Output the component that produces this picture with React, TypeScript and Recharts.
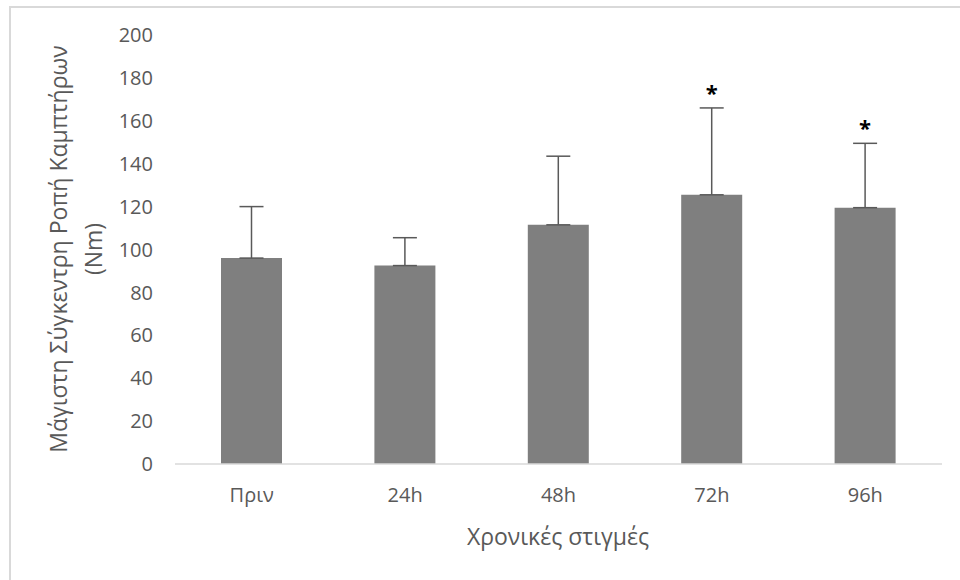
import { BarChart, Bar, XAxis, YAxis, ErrorBar, LabelList } from "recharts";

// χρονικές στιγμές
const timepoints = ["Πριν", "24h", "48h", "72h", "96h"];
// μέση τιμή ροπής (Nm)
const torque = [96, 92.5, 111.5, 125.5, 119.5];
// τυπική απόκλιση, μόνο προς τα πάνω
const sdUp = [24, 13, 32, 40.5, 30];
// σημαντικότητα
const marks = ["", "", "", "*", "*"];
const yTicks = [0, 20, 40, 60, 80, 100, 120, 140, 160, 180, 200];

const chartData = timepoints.map((t, i) => ({
  name: t,
  value: torque[i],
  err: [0, sdUp[i]],
  sig: marks[i],
}));

const FONT = "'Open Sans', 'Liberation Sans', sans-serif";
const TEXT = "#595959";

const SigLabel = (props: any) => {
  const { x, y, width, height, value, index } = props;
  if (!value) return null;
  const pxPerUnit = height / torque[index];
  const top = y - sdUp[index] * pxPerUnit;
  return (
    <text
      x={x + width / 2}
      y={top - 7}
      textAnchor="middle"
      fontFamily={FONT}
      fontWeight="bold"
      fontSize={22}
      fill="#000"
    >
      {value}
    </text>
  );
};

export default function App() {
  return (
    <div
      style={{
        position: "fixed",
        left: 0,
        top: 0,
        width: 960,
        height: 580,
        overflow: "hidden",
        background: "#fff",
      }}
    >
      {/* πλαίσιο γραφήματος */}
      <div
        style={{
          position: "absolute",
          left: 9,
          top: 6,
          width: 1000,
          height: 620,
          border: "2px solid #d9d9d9",
        }}
      />
      <div style={{ position: "absolute", left: 0, top: 0 }}>
        <BarChart
          width={960}
          height={580}
          data={chartData}
          margin={{ top: 35, right: 18, left: 75, bottom: 56 }}
          barSize={61}
        >
          <XAxis
            dataKey="name"
            axisLine={{ stroke: "#d9d9d9", strokeWidth: 1.5 }}
            tickLine={false}
            tickSize={6}
            tickMargin={18}
            height={60}
            tick={{ fontSize: 20, fill: TEXT, fontFamily: FONT }}
          />
          <YAxis
            domain={[0, 200]}
            ticks={yTicks}
            interval={0}
            axisLine={false}
            tickLine={false}
            tickSize={6}
            tickMargin={16}
            width={100}
            tick={{ fontSize: 20, fill: TEXT, fontFamily: FONT }}
          />
          <Bar dataKey="value" fill="#7f7f7f" isAnimationActive={false}>
            <ErrorBar
              dataKey="err"
              direction="y"
              width={12}
              stroke="#595959"
              strokeWidth={1.5}
              isAnimationActive={false}
            />
            <LabelList dataKey="sig" content={SigLabel} />
          </Bar>
          <text
            transform="rotate(-90)"
            textAnchor="middle"
            fontFamily={FONT}
            fontSize={23}
            fill={TEXT}
          >
            <tspan x={-249} y={67}>
              Μάγιστη Σύγκεντρη Ροπή Καμπτήρων
            </tspan>
            <tspan x={-249} y={102}>
              (Nm)
            </tspan>
          </text>
          <text
            x={558}
            y={545}
            textAnchor="middle"
            fontFamily={FONT}
            fontSize={23}
            fill={TEXT}
          >
            Χρονικές στιγμές
          </text>
        </BarChart>
      </div>
    </div>
  );
}
